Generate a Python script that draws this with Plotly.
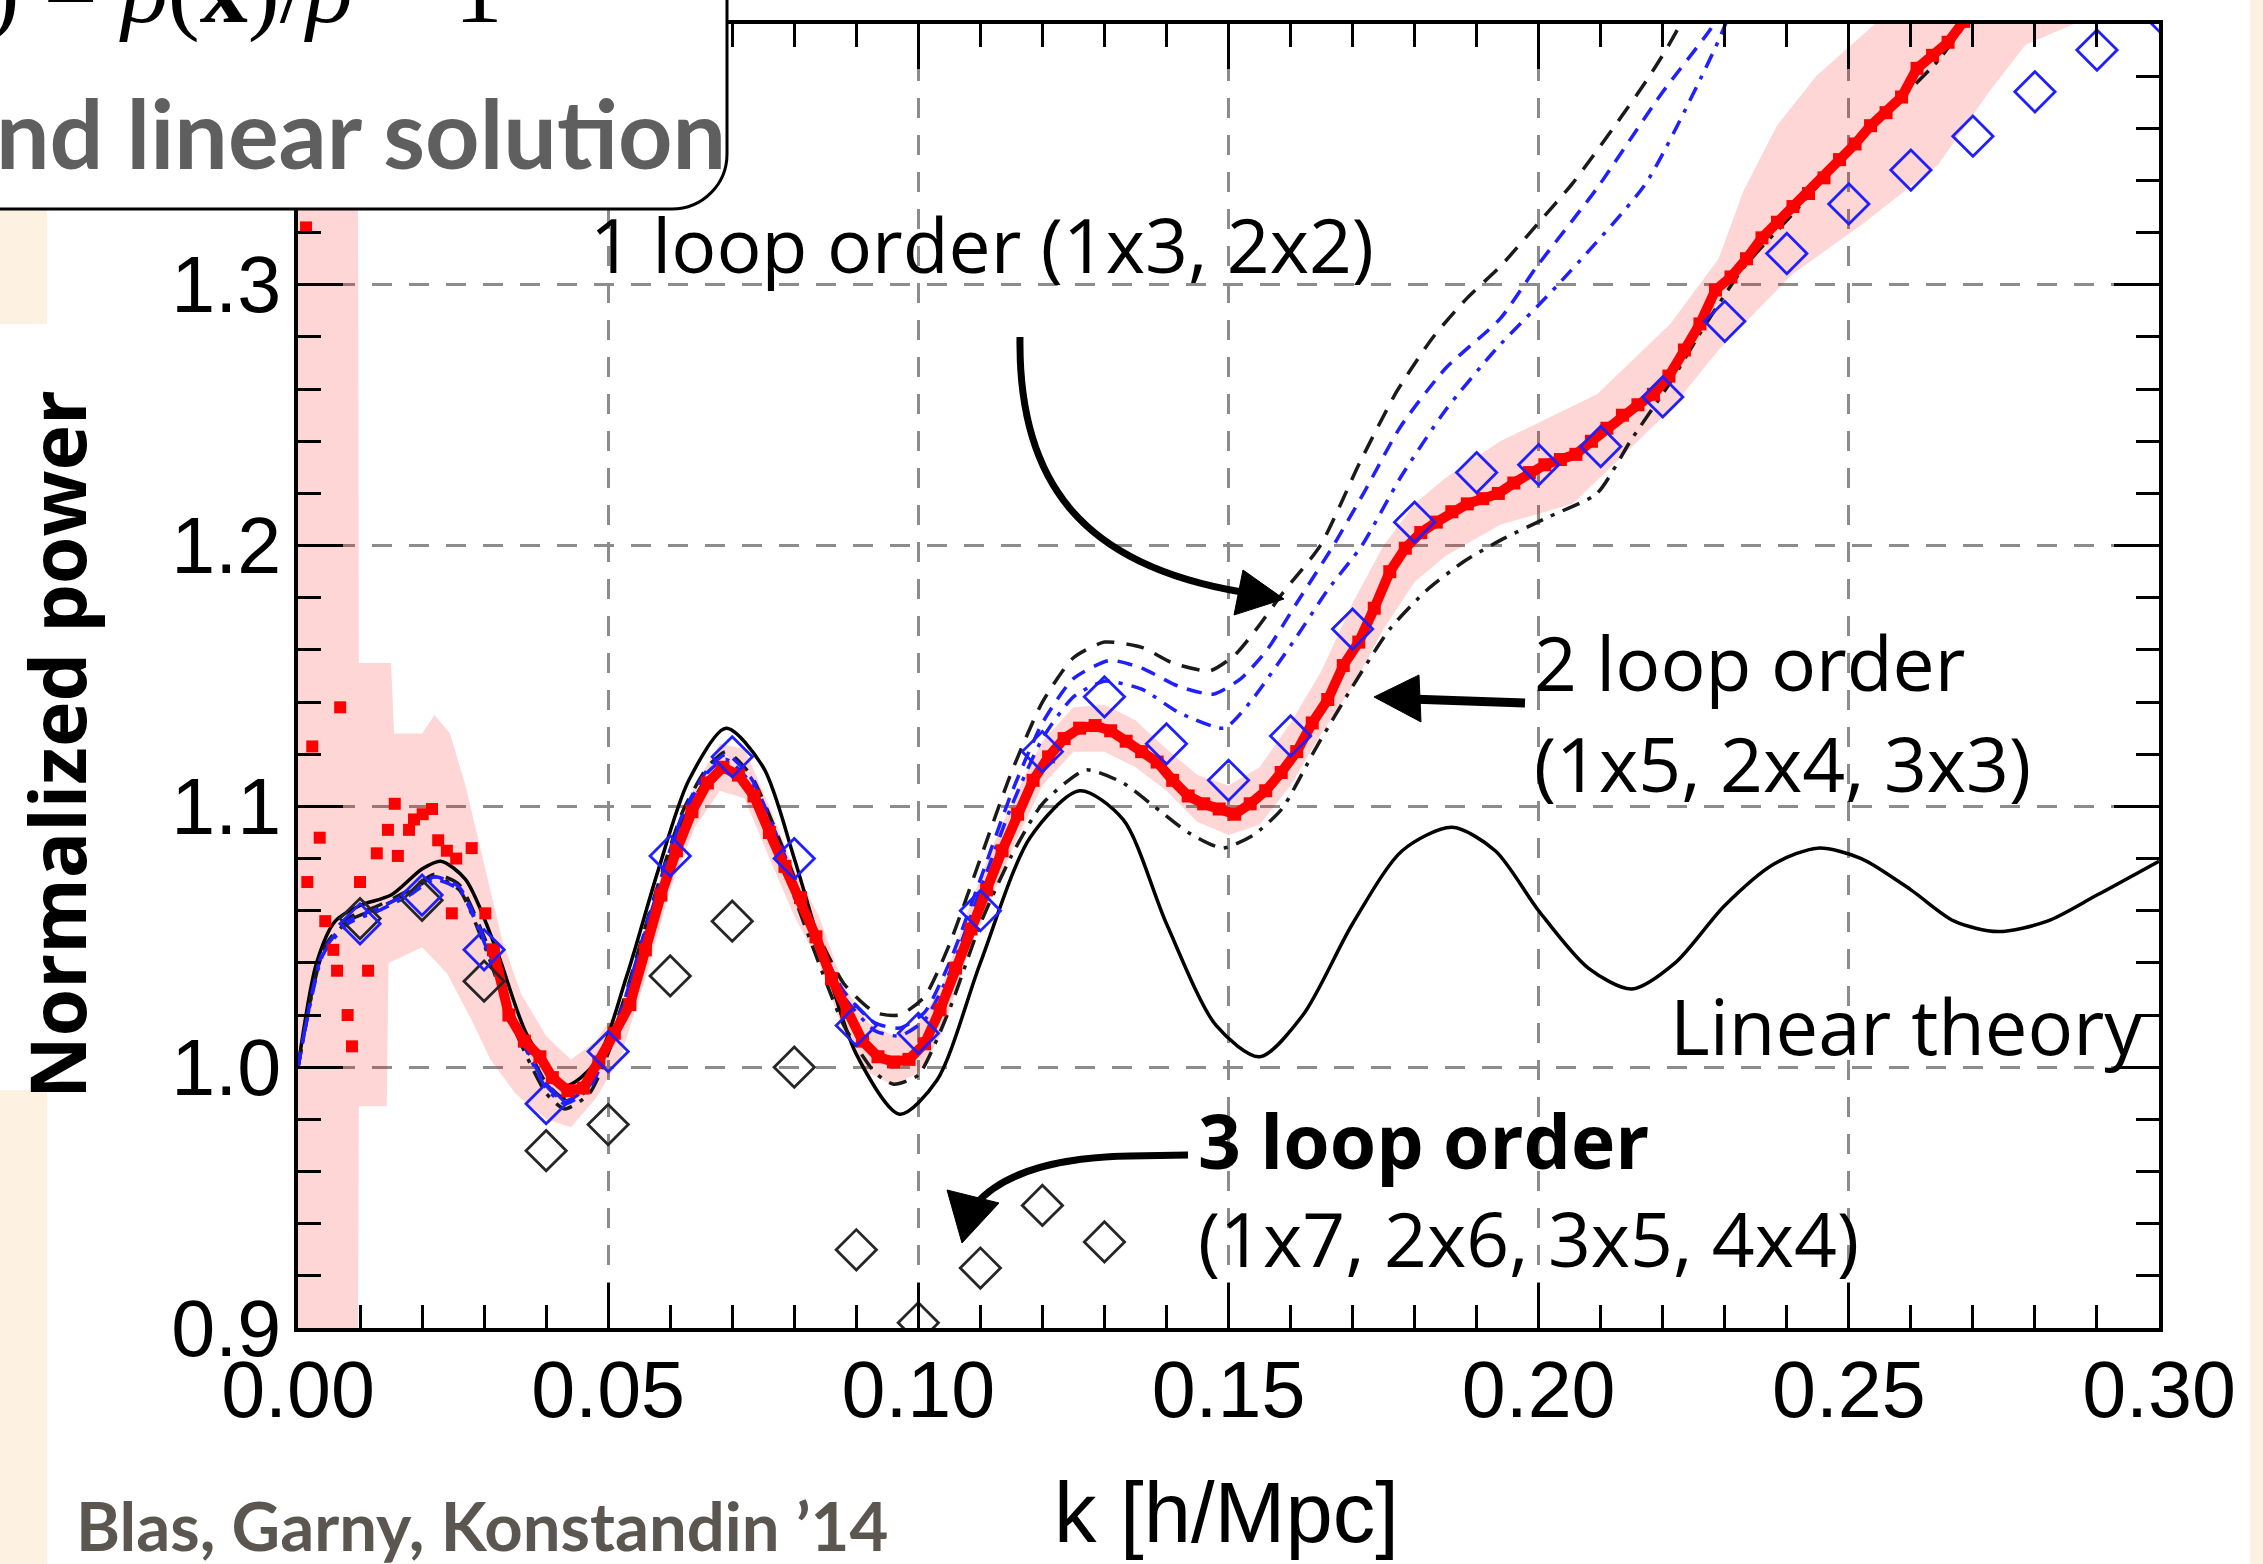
import plotly.graph_objects as go

# ---------------- data ----------------
k_linear = [0.000, 0.003, 0.006, 0.010, 0.015, 0.020, 0.023, 0.027, 0.032, 0.037, 0.043, 0.048,
            0.053, 0.058, 0.063, 0.069, 0.075, 0.080, 0.085, 0.090, 0.097, 0.103, 0.110, 0.118,
            0.126, 0.133, 0.140, 0.148, 0.155, 0.162, 0.170, 0.178, 0.186, 0.193, 0.200, 0.208,
            0.215, 0.222, 0.230, 0.238, 0.245, 0.252, 0.260, 0.267, 0.274, 0.282, 0.290, 0.300]
p_linear = [1.000, 1.040, 1.056, 1.062, 1.066, 1.076, 1.079, 1.072, 1.045, 1.012, 0.993, 1.002,
            1.035, 1.075, 1.110, 1.130, 1.115, 1.080, 1.040, 1.005, 0.982, 0.995, 1.040, 1.088,
            1.106, 1.095, 1.055, 1.016, 1.004, 1.020, 1.055, 1.083, 1.092, 1.083, 1.060, 1.038,
            1.030, 1.040, 1.062, 1.078, 1.084, 1.080, 1.068, 1.056, 1.052, 1.056, 1.066, 1.079]

# 1 loop (black dashed)
k_1loop_a = [0.000, 0.004, 0.008, 0.013, 0.018, 0.022, 0.026, 0.030, 0.035, 0.040, 0.043, 0.047,
             0.052, 0.057, 0.062, 0.066, 0.069, 0.073, 0.078, 0.083, 0.088, 0.093, 0.097, 0.101,
             0.105, 0.110, 0.115, 0.120, 0.125, 0.130, 0.136, 0.141, 0.147, 0.151, 0.1545, 0.1588,
             0.1648, 0.1712, 0.1771, 0.183, 0.1885, 0.1938, 0.1997, 0.2055, 0.2126, 0.2173, 0.2205,
             0.2236, 0.226]
p_1loop_a = [1.000, 1.045, 1.057, 1.062, 1.068, 1.074, 1.070, 1.050, 1.018, 0.994, 0.988, 0.994,
             1.022, 1.062, 1.098, 1.115, 1.121, 1.112, 1.085, 1.055, 1.032, 1.021, 1.020, 1.027,
             1.047, 1.080, 1.113, 1.140, 1.157, 1.163, 1.161, 1.155, 1.152, 1.158, 1.168, 1.182,
             1.200, 1.232, 1.259, 1.280, 1.295, 1.307, 1.323, 1.339, 1.362, 1.378, 1.390,
             1.403, 1.412]

# 1 loop (blue dashed)
k_1loop_b = [0.000, 0.004, 0.008, 0.013, 0.018, 0.022, 0.026, 0.030, 0.035, 0.040, 0.043, 0.047,
             0.052, 0.057, 0.062, 0.066, 0.069, 0.073, 0.078, 0.083, 0.088, 0.093, 0.097, 0.101,
             0.105, 0.110, 0.115, 0.120, 0.125, 0.1309, 0.136, 0.142, 0.1475, 0.152, 0.1562, 0.161,
             0.1669, 0.172, 0.1777, 0.185, 0.1938, 0.1997, 0.2094, 0.2197, 0.2277, 0.2300]
p_1loop_b = [1.000, 1.044, 1.056, 1.061, 1.067, 1.073, 1.069, 1.049, 1.017, 0.993, 0.987, 0.993,
             1.021, 1.061, 1.097, 1.114, 1.120, 1.111, 1.084, 1.053, 1.029, 1.017, 1.015, 1.021,
             1.040, 1.072, 1.105, 1.132, 1.149, 1.156, 1.153, 1.146, 1.143, 1.149, 1.160, 1.178,
             1.200, 1.221, 1.2455, 1.268, 1.287, 1.307, 1.337, 1.373, 1.398, 1.407]

# 1 loop (blue dash-dot)
k_1loop_c = [0.000, 0.004, 0.008, 0.013, 0.018, 0.022, 0.026, 0.030, 0.035, 0.040, 0.043, 0.047,
             0.052, 0.057, 0.062, 0.066, 0.069, 0.073, 0.078, 0.083, 0.088, 0.093, 0.097, 0.101,
             0.105, 0.110, 0.115, 0.120, 0.125, 0.130, 0.136, 0.142, 0.1493, 0.1535, 0.1604, 0.166,
             0.1715, 0.1777, 0.185, 0.193, 0.2031, 0.2173, 0.2283, 0.2310]
p_1loop_c = [1.000, 1.043, 1.055, 1.060, 1.066, 1.072, 1.068, 1.048, 1.016, 0.992, 0.986, 0.992,
             1.020, 1.060, 1.096, 1.113, 1.118, 1.109, 1.082, 1.051, 1.027, 1.014, 1.012, 1.018,
             1.036, 1.068, 1.100, 1.126, 1.142, 1.148, 1.145, 1.136, 1.130, 1.140, 1.163, 1.183,
             1.200, 1.226, 1.252, 1.275, 1.300, 1.339, 1.390, 1.405]

# 2 loop (black dash-dot)
k_2loop = [0.000, 0.004, 0.008, 0.013, 0.018, 0.022, 0.026, 0.030, 0.035, 0.040, 0.043, 0.047,
           0.052, 0.057, 0.062, 0.066, 0.069, 0.073, 0.078, 0.083, 0.088, 0.093, 0.096, 0.100,
           0.105, 0.110, 0.115, 0.120, 0.127, 0.133, 0.138, 0.1435, 0.149, 0.154, 0.1586, 0.164,
           0.170, 0.176, 0.182, 0.188, 0.1938, 0.2016, 0.2094, 0.2149, 0.2212, 0.2267, 0.2330,
           0.2409, 0.2487, 0.2565, 0.2644, 0.2690, 0.272]
p_2loop = [1.000, 1.044, 1.056, 1.061, 1.067, 1.073, 1.068, 1.047, 1.014, 0.990, 0.984, 0.990,
           1.018, 1.058, 1.094, 1.111, 1.115, 1.105, 1.078, 1.046, 1.016, 0.998, 0.9935, 0.997,
           1.022, 1.055, 1.081, 1.101, 1.114, 1.109, 1.100, 1.090, 1.084, 1.089, 1.099, 1.122,
           1.146, 1.168, 1.183, 1.194, 1.202, 1.211, 1.220, 1.2405, 1.2625, 1.284, 1.3065,
           1.327, 1.348, 1.367, 1.386, 1.4005, 1.410]

# N-body data: scattered low-k points
k_data_lo = [0.0013, 0.0015, 0.0023, 0.0035, 0.0044, 0.0057, 0.0063, 0.0068, 0.0080, 0.0087,
             0.0100, 0.0113, 0.0127, 0.0145, 0.0156, 0.0161, 0.0179, 0.0187, 0.0201, 0.0216,
             0.0226, 0.0240, 0.0248, 0.0255, 0.0280, 0.0302]
p_data_lo = [1.322, 1.071, 1.123, 1.088, 1.056, 1.045, 1.037, 1.138, 1.020, 1.008,
             1.071, 1.037, 1.082, 1.091, 1.101, 1.081, 1.091, 1.095, 1.097, 1.099,
             1.087, 1.083, 1.059, 1.080, 1.084, 1.059]

# N-body data: continuous part
k_data = [0.0315, 0.0340, 0.0365, 0.0390, 0.0410, 0.0435, 0.0460, 0.0485, 0.0510, 0.0535,
          0.0560, 0.0585, 0.0610, 0.0635, 0.0660, 0.0685, 0.0710, 0.0735, 0.0760, 0.0785,
          0.0810, 0.0835, 0.0860, 0.0885, 0.0910, 0.0935, 0.0960, 0.0985, 0.1010, 0.1035,
          0.1060, 0.1085, 0.1110, 0.1135, 0.1160, 0.1185, 0.1210, 0.1235, 0.1260, 0.1285,
          0.1310, 0.1335, 0.1360, 0.1385, 0.1410, 0.1435, 0.1460, 0.1485, 0.1510, 0.1535,
          0.1560, 0.1585, 0.1610, 0.1635, 0.1660, 0.1685, 0.1710, 0.1735, 0.1760, 0.1785,
          0.1810, 0.1835, 0.1860, 0.1885, 0.1910, 0.1935, 0.1960, 0.1985, 0.2010, 0.2035,
          0.2060, 0.2085, 0.2110, 0.2135, 0.2160, 0.2185, 0.2210, 0.2235, 0.2260, 0.2285,
          0.2310, 0.2335, 0.2360, 0.2385, 0.2410, 0.2435, 0.2460, 0.2485, 0.2510, 0.2535,
          0.2560, 0.2585, 0.2610, 0.2635, 0.2660, 0.2685, 0.2710]
p_data = [1.045, 1.020, 1.010, 1.004, 0.996, 0.991, 0.992, 1.002, 1.013, 1.024,
          1.045, 1.066, 1.083, 1.098, 1.109, 1.115, 1.112, 1.104, 1.090, 1.077,
          1.065, 1.050, 1.034, 1.021, 1.010, 1.004, 1.002, 1.003, 1.009, 1.022,
          1.038, 1.053, 1.068, 1.083, 1.097, 1.110, 1.119, 1.126, 1.130, 1.131,
          1.129, 1.125, 1.121, 1.117, 1.110, 1.104, 1.101, 1.099, 1.097, 1.101,
          1.106, 1.113, 1.121, 1.132, 1.141, 1.154, 1.163, 1.176, 1.190, 1.199,
          1.205, 1.209, 1.213, 1.216, 1.218, 1.220, 1.224, 1.228, 1.231, 1.233,
          1.235, 1.240, 1.245, 1.250, 1.254, 1.258, 1.265, 1.275, 1.285, 1.298,
          1.303, 1.310, 1.318, 1.324, 1.330, 1.335, 1.341, 1.348, 1.354, 1.361,
          1.366, 1.372, 1.383, 1.388, 1.393, 1.401, 1.408]

# error band of the data
k_band_up = [0.0000, 0.0096, 0.0098, 0.0150, 0.0155, 0.0200, 0.0220, 0.0245, 0.0270, 0.0300,
             0.0330, 0.0360, 0.0400, 0.0440, 0.0480, 0.0520, 0.0560, 0.0600, 0.0640, 0.0680,
             0.0720, 0.0760, 0.0800, 0.0840, 0.0880, 0.0920, 0.0960, 0.1000, 0.1040, 0.1080,
             0.1120, 0.1160, 0.1200, 0.1250, 0.1300, 0.1350, 0.1400, 0.1450, 0.1500, 0.1550,
             0.1600, 0.1650, 0.1700, 0.1750, 0.1800, 0.1850, 0.1900, 0.1938, 0.2094, 0.2212,
             0.2290, 0.2330, 0.2384, 0.2447, 0.2542, 0.2600, 0.2900]
band_up = [1.450, 1.450, 1.155, 1.155, 1.128, 1.128, 1.135, 1.128, 1.108, 1.078,
           1.048, 1.028, 1.012, 1.003, 1.010, 1.024, 1.054, 1.085, 1.108, 1.124,
           1.122, 1.100, 1.076, 1.058, 1.031, 1.017, 1.012, 1.017, 1.032, 1.060,
           1.085, 1.106, 1.125, 1.138, 1.139, 1.133, 1.122, 1.112, 1.108, 1.115,
           1.132, 1.152, 1.178, 1.200, 1.216, 1.226, 1.234, 1.240, 1.258, 1.285,
           1.310, 1.336, 1.361, 1.380, 1.400, 1.450, 1.450]
k_band_lo = [0.0000, 0.0096, 0.0098, 0.0143, 0.0146, 0.0200, 0.0240, 0.0280, 0.0310, 0.0350,
             0.0400, 0.0440, 0.0480, 0.0520, 0.0560, 0.0600, 0.0640, 0.0680, 0.0720, 0.0760,
             0.0800, 0.0840, 0.0880, 0.0920, 0.0960, 0.1000, 0.1040, 0.1080, 0.1120, 0.1160,
             0.1200, 0.1250, 0.1300, 0.1350, 0.1400, 0.1450, 0.1500, 0.1550, 0.1600, 0.1650,
             0.1700, 0.1750, 0.1800, 0.1850, 0.1938, 0.2055, 0.2212, 0.2290, 0.2409, 0.2526,
             0.2644, 0.2723, 0.2785, 0.2863, 0.2900]
band_lo = [0.850, 0.850, 0.985, 0.985, 1.040, 1.046, 1.036, 1.018, 1.003, 0.990,
           0.980, 0.977, 0.988, 1.004, 1.034, 1.068, 1.092, 1.106, 1.103, 1.080,
           1.058, 1.040, 1.013, 0.998, 0.993, 0.998, 1.014, 1.044, 1.066, 1.088,
           1.108, 1.121, 1.121, 1.115, 1.106, 1.094, 1.089, 1.093, 1.108, 1.128,
           1.146, 1.168, 1.186, 1.196, 1.208, 1.216, 1.252, 1.275, 1.304, 1.324,
           1.346, 1.373, 1.392, 1.400, 1.420]

# diamonds
k_diam_blue = [0.01, 0.02, 0.03, 0.04, 0.05, 0.06, 0.07, 0.08, 0.09, 0.10, 0.11, 0.12, 0.13, 0.14, 0.15,
               0.16, 0.17, 0.18, 0.19, 0.20, 0.21, 0.22, 0.23, 0.24, 0.25, 0.26, 0.27, 0.28, 0.29, 0.30]
p_diam_blue = [1.055, 1.066, 1.045, 0.986, 1.006, 1.081, 1.119, 1.080, 1.016, 1.013, 1.060, 1.121,
               1.142, 1.124, 1.110, 1.127, 1.168, 1.209, 1.228, 1.231, 1.238, 1.257, 1.286, 1.312,
               1.331, 1.344, 1.357, 1.374, 1.390, 1.405]
k_diam_black = [0.01, 0.02, 0.03, 0.04, 0.05, 0.06, 0.07, 0.08, 0.09, 0.10, 0.11, 0.12, 0.13]
p_diam_black = [1.057, 1.064, 1.033, 0.968, 0.978, 1.035, 1.056, 1.000, 0.930, 0.902, 0.923, 0.947, 0.933]

x_ticks = [0.00, 0.05, 0.10, 0.15, 0.20, 0.25, 0.30]
y_ticks = [0.9, 1.0, 1.1, 1.2, 1.3]

# ---------------- figure geometry ----------------
FW, FH = 2263, 1564
L, R, T, B = 298, 2159, 24, 1328


def fx(x):
    return (x - L) / (R - L)


def fy(y):
    return (B - y) / (B - T)


def P(x, y):
    return f"{fx(x):.5f},{fy(y):.5f}"


BLUE = "#1f1fff"
RED = "#ff0000"

fig = go.Figure()

fig.add_trace(go.Scatter(
    x=k_band_up + k_band_lo[::-1], y=band_up + band_lo[::-1],
    mode="lines", fill="toself", fillcolor="rgba(255,0,0,0.16)",
    line=dict(width=0), hoverinfo="skip"))

fig.add_trace(go.Scatter(x=k_linear, y=p_linear, mode="lines",
                         line=dict(color="black", width=3.5, shape="spline", smoothing=0.8)))
fig.add_trace(go.Scatter(x=k_2loop, y=p_2loop, mode="lines",
                         line=dict(color="#1a1a1a", width=3.5, dash="18px,9px,4px,9px",
                                   shape="spline", smoothing=0.6)))
fig.add_trace(go.Scatter(x=k_1loop_a, y=p_1loop_a, mode="lines",
                         line=dict(color="#1a1a1a", width=3.5, dash="18px,12px",
                                   shape="spline", smoothing=0.6)))
fig.add_trace(go.Scatter(x=k_1loop_b, y=p_1loop_b, mode="lines",
                         line=dict(color=BLUE, width=3.5, dash="15px,10px",
                                   shape="spline", smoothing=0.6)))
fig.add_trace(go.Scatter(x=k_1loop_c, y=p_1loop_c, mode="lines",
                         line=dict(color=BLUE, width=3.5, dash="15px,9px,4px,9px",
                                   shape="spline", smoothing=0.6)))

fig.add_trace(go.Scatter(x=k_data_lo, y=p_data_lo, mode="markers",
                         marker=dict(symbol="square", size=12, color=RED)))
fig.add_trace(go.Scatter(x=k_data, y=p_data, mode="lines+markers",
                         line=dict(color=RED, width=10),
                         marker=dict(symbol="square", size=13, color=RED)))

fig.add_trace(go.Scatter(x=k_diam_black, y=p_diam_black, mode="markers",
                         marker=dict(symbol="diamond-open", size=31, color="#262626",
                                     line=dict(width=2.8, color="#262626"))))
fig.add_trace(go.Scatter(x=k_diam_blue, y=p_diam_blue, mode="markers",
                         marker=dict(symbol="diamond-open", size=31, color=BLUE,
                                     line=dict(width=2.8, color=BLUE))))

tickfont = dict(family="Liberation Sans, Arial, sans-serif", size=79, color="black")
common_axis = dict(
    ticks="inside", ticklen=45, tickwidth=3, tickcolor="black",
    showline=True, linewidth=4, linecolor="black", mirror="ticks",
    showgrid=True, gridcolor="#8c8c8c", gridwidth=3, griddash="20px,17px",
    zeroline=False, tickfont=tickfont, automargin=False,
)

fig.update_layout(
    width=FW, height=FH,
    margin=dict(l=L, r=FW - R, t=T, b=FH - B, pad=0, autoexpand=False),
    paper_bgcolor="white", plot_bgcolor="white",
    showlegend=False,
    xaxis=dict(range=[0, 0.30], tickvals=x_ticks, tickformat=".2f",
               ticklabelstandoff=-10,
               minor=dict(dtick=0.01, tick0=0, ticks="inside", ticklen=23, tickwidth=3,
                          tickcolor="black", showgrid=False),
               **common_axis),
    yaxis=dict(range=[0.9, 1.4], tickvals=y_ticks, tickformat=".1f",
               ticklabelstandoff=-3,
               minor=dict(dtick=0.02, tick0=0.9, ticks="inside", ticklen=23, tickwidth=3,
                          tickcolor="black", showgrid=False),
               **common_axis),
)

CREAM = "#fdf2e1"
shapes = [
    dict(type="rect", xref="paper", yref="paper", x0=fx(0), x1=fx(47), y0=fy(324), y1=fy(209),
         fillcolor=CREAM, line=dict(width=0), layer="below"),
    dict(type="rect", xref="paper", yref="paper", x0=fx(0), x1=fx(47), y0=fy(1564), y1=fy(1090),
         fillcolor=CREAM, line=dict(width=0), layer="below"),
    dict(type="rect", xref="paper", yref="paper", x0=fx(2250), x1=fx(2263), y0=fy(1564), y1=fy(0),
         fillcolor=CREAM, line=dict(width=0), layer="below"),
    # top-left white box with rounded corner
    dict(type="path", xref="paper", yref="paper", layer="above",
         path=f"M{P(-10,-10)} L{P(727,-10)} L{P(727,154)} C{P(727,184.4)} {P(702.4,209)} {P(672,209)} L{P(-10,209)} Z",
         fillcolor="white", line=dict(color="black", width=3)),
    # arrow 1 (1 loop)
    dict(type="path", xref="paper", yref="paper", layer="above",
         path=f"M{P(1020,337)} C{P(1018,480)} {P(1080,565)} {P(1242,592)}",
         line=dict(color="black", width=7)),
    dict(type="path", xref="paper", yref="paper", layer="above",
         path=f"M{P(1284,599)} L{P(1243,570)} L{P(1234,615)} Z",
         fillcolor="black", line=dict(color="black", width=1)),
    # arrow 2 (2 loop)
    dict(type="path", xref="paper", yref="paper", layer="above",
         path=f"M{P(1525,703)} L{P(1410,699)}",
         line=dict(color="black", width=9)),
    dict(type="path", xref="paper", yref="paper", layer="above",
         path=f"M{P(1374,697)} L{P(1419,675)} L{P(1421,722)} Z",
         fillcolor="black", line=dict(color="black", width=1)),
    # arrow 3 (3 loop)
    dict(type="path", xref="paper", yref="paper", layer="above",
         path=f"M{P(1188,1155)} L{P(1130,1156)} C{P(1065,1157)} {P(1005,1170)} {P(975,1205)}",
         line=dict(color="black", width=7)),
    dict(type="path", xref="paper", yref="paper", layer="above",
         path=f"M{P(962,1243)} L{P(947,1190)} L{P(999,1203)} Z",
         fillcolor="black", line=dict(color="black", width=1)),
]
fig.update_layout(shapes=shapes)

OPEN = "Open Sans, sans-serif"


def ann(text, x, y, size, family=OPEN, color="black", xanchor="left", angle=0):
    return dict(text=text, x=fx(x), y=fy(y), xref="paper", yref="paper",
                xanchor=xanchor, yanchor="middle", showarrow=False, textangle=angle,
                font=dict(family=family, size=size, color=color))


annotations = [
    ann("<i>δ</i>(<b>x</b>) = <i>ρ</i>(<b>x</b>)/<i>ρ̄</i> − 1", 505, -11, 96,
        family="Liberation Serif, serif", xanchor="right"),
    ann("<b>nd linear solution</b>", -6, 132, 95, family="Lato, sans-serif", color="#5f5f5f"),
    ann("1 loop order (1x3, 2x2)", 588, 244, 75),
    ann("2 loop order", 1532, 662, 75),
    ann("(1x5, 2x4, 3x3)", 1532, 763, 75),
    ann("Linear theory", 1668, 1025, 76),
    ann("<b>3 loop order</b>", 1196, 1140, 75),
    ann("(1x7, 2x6, 3x5, 4x4)", 1196, 1238, 75),
    ann("<b>Normalized power</b>", 56, 745, 77, xanchor="center", angle=-90),
    ann("k [h/Mpc]", 1226, 1512, 85, family="Liberation Sans, Arial, sans-serif", xanchor="center"),
    ann("<b>Blas, Garny, Konstandin ’14</b>", 74, 1525, 67, family="Lato, sans-serif", color="#5b5650"),
]
fig.update_layout(annotations=annotations)

fig.write_html("out.html", config={"displayModeBar": False},
               post_script="document.body.style.margin='0px';")
